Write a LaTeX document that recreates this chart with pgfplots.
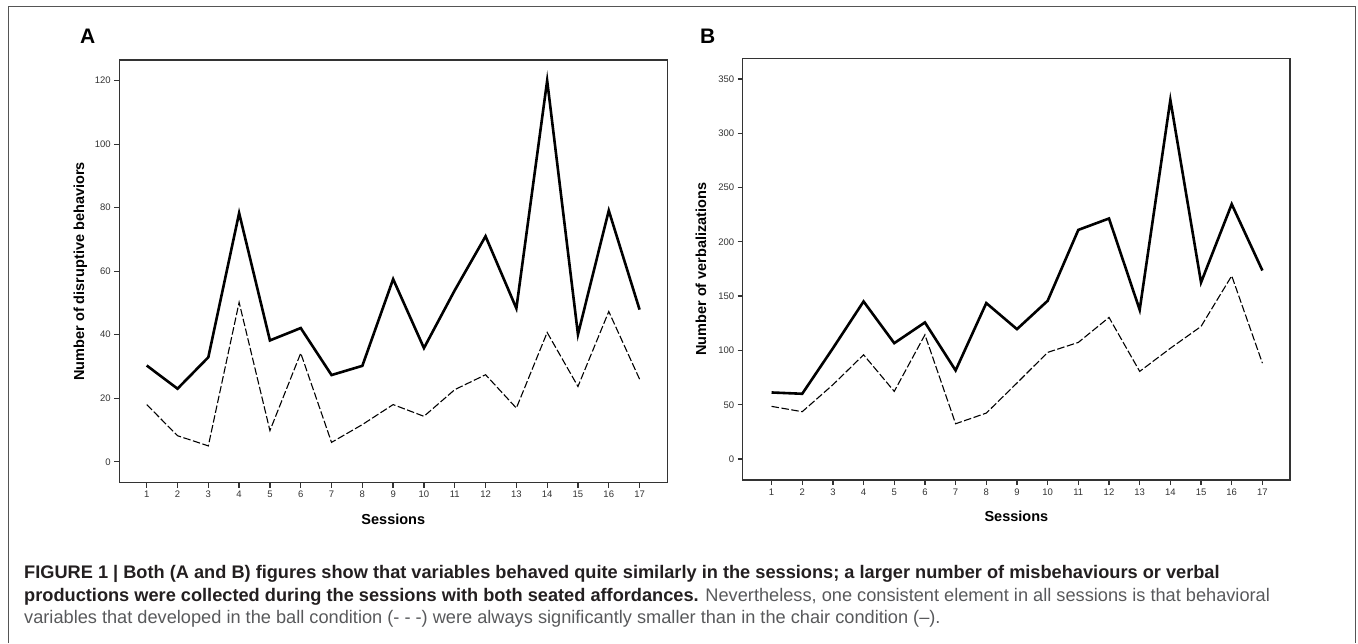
\documentclass[border=0pt]{standalone}
\usepackage{fontspec}
\setmainfont{Liberation Sans}
\usepackage{pgfplots}
\pgfplotsset{compat=1.18}

\definecolor{axisgray}{HTML}{333333}
\definecolor{framegray}{HTML}{555555}
\definecolor{capbold}{HTML}{231F20}
\definecolor{capnorm}{HTML}{58595B}

% data read from the figure
\pgfplotstableread{
s  chair  ball
1  30.3   18.0
2  23.0    8.2
3  32.9    5.0
4  78.3   50.2
5  38.2    9.8
6  42.1   34.2
7  27.3    6.1
8  30.2   11.7
9  57.5   18.0
10 35.8   14.3
11 54.0   22.7
12 71.0   27.4
13 48.3   16.9
14 120.0  40.7
15 40.1   23.7
16 79.1   47.3
17 47.9   26.0
}\disruptive

\pgfplotstableread{
s  chair  ball
1  61.3   48.5
2  60.1   43.6
3  102.0  68.4
4  145.1  96.0
5  106.7  62.3
6  125.8  114.4
7  81.6   32.5
8  143.6  42.3
9  119.6  70.0
10 145.7  98.2
11 211.0  107.4
12 221.5  130.4
13 137.4  80.7
14 330.7  102.0
15 162.6  122.1
16 234.7  168.7
17 173.6  88.3
}\verbal

\pgfplotsset{
  panel/.style={
    scale only axis,
    anchor=north west,
    axis line style={axisgray, line width=1.3pt},
    tick style={axisgray, line width=1.3pt},
    tick align=outside,
    tick pos=left,
    major tick length=5pt,
    xtick={1,...,17},
    ticklabel style={font=\fontsize{9.5}{9.5}\selectfont, text=axisgray},
    /pgf/number format/assume math mode=true,
    label style={font=\bfseries\fontsize{14.5}{14.5}\selectfont},
    xlabel={Sessions},
    x label style={at={(axis description cs:0.5,-0.098)}, anchor=base},
  },
  chair/.style={black, line width=2.6pt, line join=miter},
  ball/.style={black, line width=1.1pt, dash pattern=on 7.5pt off 2.5pt},
}

\begin{document}
\begin{tikzpicture}
\path[use as bounding box] (0pt,0pt) rectangle (1358pt,-643pt);
\draw[framegray, line width=1pt] (8pt,-643pt) -- (8pt,-6pt) -- (1355pt,-6pt) -- (1355pt,-643pt);

\node[anchor=base west, font=\bfseries\fontsize{21}{21}\selectfont, inner sep=0pt] at (80pt,-43pt) {A};
\node[anchor=base west, font=\bfseries\fontsize{21}{21}\selectfont, inner sep=0pt] at (700pt,-43pt) {B};

\begin{axis}[panel,
  at={(119.3pt,-60pt)},
  width=548pt, height=422.7pt,
  xmin=0.11, xmax=17.9,
  ymin=-6.6, ymax=126.5,
  ytick={0,20,...,120},
  ylabel={Number of disruptive behaviors},
  y label style={at={(axis description cs:-0.0644,0.5)}, anchor=base},
]
\addplot[chair] table[x=s, y=chair] {\disruptive};
\addplot[ball] table[x=s, y=ball] {\disruptive};
\end{axis}

\begin{axis}[panel,
  at={(742.7pt,-58.3pt)},
  width=547.3pt, height=421.7pt,
  xmin=0.06, xmax=17.9,
  ymin=-19.3, ymax=369,
  ytick={0,50,...,350},
  ylabel={Number of verbalizations},
  y label style={at={(axis description cs:-0.067,0.5)}, anchor=base},
]
\addplot[chair] table[x=s, y=chair] {\verbal};
\addplot[ball] table[x=s, y=ball] {\verbal};
\end{axis}

\begin{scope}[every node/.style={anchor=base west, inner sep=0pt, font=\fontsize{18.2}{18.2}\selectfont}]
\node[text=capbold] at (24pt,-578.5pt) {\bfseries FIGURE 1 | Both (A and B) figures show that variables behaved quite similarly in the sessions; a larger number of misbehaviours or verbal};
\node at (24pt,-601pt) {\textcolor{capbold}{\bfseries productions were collected during the sessions with both seated affordances.} \textcolor{capnorm}{Nevertheless, one consistent element in all sessions is that behavioral}};
\node[text=capnorm] at (24pt,-623.5pt) {variables that developed in the ball condition (- - -) were always significantly smaller than in the chair condition (--).};
\end{scope}
\end{tikzpicture}
\end{document}
